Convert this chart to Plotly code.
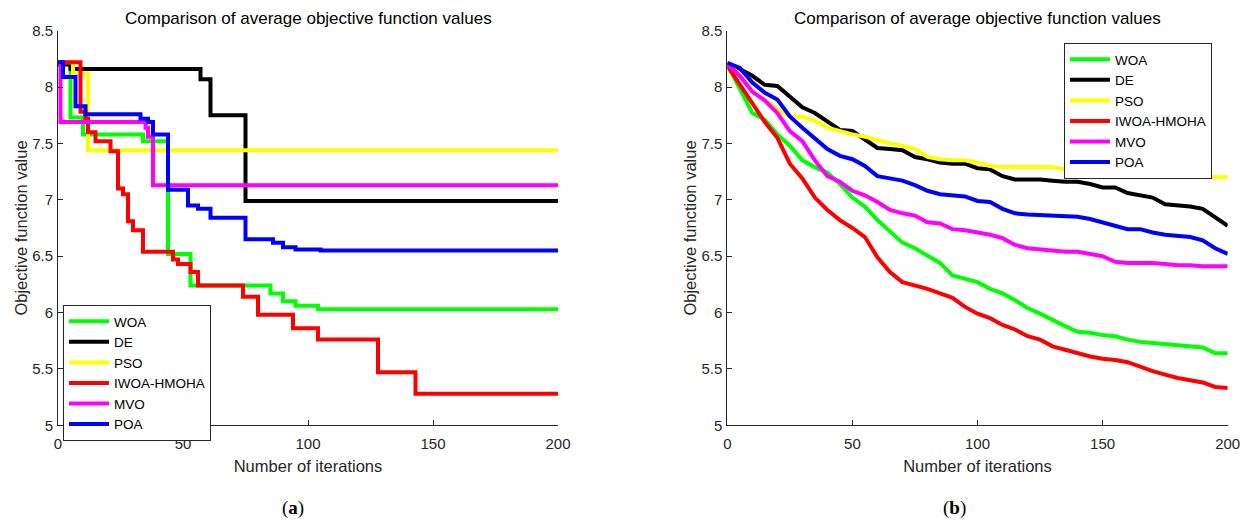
import plotly.graph_objects as go

names = ["WOA", "DE", "PSO", "IWOA-HMOHA", "MVO", "POA"]
colors = ["#00FF00", "#000000", "#FFFF00", "#FF0000", "#FF00FF", "#0000FF"]

# ---- (a) step curves: iteration where a level starts, and the level ----
a_woa_x = [0, 5, 10, 34, 44, 53, 85, 90, 95, 104, 200]
a_woa_y = [8.22, 7.73, 7.58, 7.52, 6.52, 6.24, 6.17, 6.10, 6.06, 6.03, 6.03]
a_de_x = [0, 5, 57, 61, 75, 200]
a_de_y = [8.20, 8.16, 8.07, 7.75, 6.99, 6.99]
a_pso_x = [0, 6, 12, 200]
a_pso_y = [8.22, 8.12, 7.44, 7.44]
a_iwoa_x = [0, 9, 11, 12, 15, 21, 24, 26, 28, 30, 34, 46, 48, 53, 56, 74, 80, 94, 104, 128, 143, 200]
a_iwoa_y = [8.22, 7.78, 7.72, 7.60, 7.52, 7.43, 7.10, 7.05, 6.81, 6.73, 6.54, 6.47, 6.43, 6.36, 6.24,
            6.14, 5.98, 5.86, 5.76, 5.47, 5.28, 5.28]
a_mvo_x = [0, 1, 35, 36, 38, 200]
a_mvo_y = [8.22, 7.69, 7.64, 7.56, 7.13, 7.13]
a_poa_x = [0, 2, 7, 11, 33, 36, 38, 44, 52, 56, 61, 75, 86, 90, 95, 105, 200]
a_poa_y = [8.22, 8.09, 7.83, 7.76, 7.72, 7.69, 7.58, 7.09, 6.95, 6.92, 6.84, 6.65, 6.62, 6.58, 6.56,
           6.55, 6.55]

# ---- (b) curves read every 5 iterations ----
b_iter = list(range(0, 201, 5))
b_woa = [8.20, 7.99, 7.77, 7.71, 7.58, 7.48, 7.35, 7.29, 7.24, 7.14, 7.02, 6.94, 6.82, 6.72, 6.62,
         6.57, 6.50, 6.44, 6.33, 6.30, 6.27, 6.21, 6.17, 6.11, 6.04, 5.99, 5.93, 5.88, 5.83, 5.82,
         5.80, 5.79, 5.76, 5.74, 5.73, 5.72, 5.71, 5.70, 5.69, 5.64, 5.64]
b_de = [8.21, 8.16, 8.10, 8.02, 8.01, 7.92, 7.82, 7.77, 7.69, 7.62, 7.61, 7.54, 7.46, 7.45, 7.44,
        7.38, 7.36, 7.33, 7.32, 7.32, 7.28, 7.27, 7.21, 7.18, 7.18, 7.18, 7.17, 7.16, 7.16, 7.14,
        7.11, 7.11, 7.06, 7.04, 7.02, 6.96, 6.95, 6.94, 6.92, 6.85, 6.77]
b_pso = [8.21, 8.11, 7.95, 7.89, 7.80, 7.74, 7.735, 7.70, 7.64, 7.61, 7.58, 7.56, 7.53, 7.50, 7.48,
         7.45, 7.38, 7.36, 7.35, 7.35, 7.33, 7.30, 7.29, 7.29, 7.29, 7.29, 7.29, 7.27, 7.24, 7.24,
         7.24, 7.24, 7.24, 7.24, 7.21, 7.21, 7.21, 7.21, 7.21, 7.20, 7.20]
b_iwoa = [8.19, 8.02, 7.85, 7.69, 7.55, 7.32, 7.19, 7.02, 6.91, 6.82, 6.75, 6.67, 6.49, 6.36, 6.27,
          6.24, 6.21, 6.17, 6.13, 6.05, 5.99, 5.95, 5.89, 5.85, 5.79, 5.76, 5.70, 5.67, 5.64, 5.61,
          5.59, 5.58, 5.56, 5.52, 5.48, 5.45, 5.42, 5.40, 5.38, 5.34, 5.33]
b_mvo = [8.21, 8.10, 7.96, 7.88, 7.77, 7.61, 7.52, 7.35, 7.21, 7.16, 7.08, 7.04, 6.98, 6.91, 6.88,
         6.86, 6.80, 6.79, 6.74, 6.73, 6.71, 6.69, 6.66, 6.60, 6.57, 6.56, 6.55, 6.54, 6.54, 6.52,
         6.50, 6.45, 6.44, 6.44, 6.44, 6.43, 6.42, 6.42, 6.41, 6.41, 6.41]
b_poa = [8.215, 8.17, 8.04, 7.95, 7.89, 7.74, 7.64, 7.54, 7.45, 7.39, 7.36, 7.30, 7.21, 7.19, 7.17,
         7.13, 7.08, 7.05, 7.04, 7.03, 6.99, 6.98, 6.92, 6.88, 6.87, 6.865, 6.86, 6.855, 6.85, 6.83,
         6.80, 6.77, 6.74, 6.74, 6.71, 6.69, 6.68, 6.67, 6.64, 6.57, 6.52]

y_ticks = [5, 5.5, 6, 6.5, 7, 7.5, 8, 8.5]
y_ticktext = ["5", "5.5", "6", "6.5", "7", "7.5", "8", "8.5"]
x_ticks = [0, 50, 100, 150, 200]

title_text = "Comparison of average objective function values"
xlabel = "Number of iterations"
ylabel = "Objective function value"

FONT = "Liberation Sans, Arial, sans-serif"
AX = "#262626"
LW = 4

fig = go.Figure()

a_x = [a_woa_x, a_de_x, a_pso_x, a_iwoa_x, a_mvo_x, a_poa_x]
a_y = [a_woa_y, a_de_y, a_pso_y, a_iwoa_y, a_mvo_y, a_poa_y]
for n, c, xs, ys in zip(names, colors, a_x, a_y):
    fig.add_trace(go.Scatter(x=xs, y=ys, mode="lines", name=n, line=dict(color=c, width=LW, shape="hv"),
                             xaxis="x", yaxis="y", legend="legend"))

b_y = [b_woa, b_de, b_pso, b_iwoa, b_mvo, b_poa]
for n, c, ys in zip(names, colors, b_y):
    fig.add_trace(go.Scatter(x=b_iter, y=ys, mode="lines", name=n, line=dict(color=c, width=LW),
                             xaxis="x2", yaxis="y2", legend="legend2"))

W, H = 1247, 523
x1d = [58 / W, 558 / W]
x2d = [727.3 / W, 1227.7 / W]
yd = [(H - 425.3) / H, (H - 30.7) / H]

def xax(domain, anchor):
    return dict(domain=domain, anchor=anchor, range=[0, 200], tickvals=x_ticks, ticks="inside",
                ticklen=5, tickcolor=AX, showline=True, linecolor=AX, linewidth=1, showgrid=False,
                zeroline=False, automargin=False, ticklabelstandoff=5,
                tickfont=dict(family=FONT, size=15, color=AX),
                title=dict(text=xlabel, font=dict(family=FONT, size=16.5, color=AX), standoff=9))

def yax(domain, anchor):
    return dict(domain=domain, anchor=anchor, range=[5, 8.5], tickvals=y_ticks, ticktext=y_ticktext,
                ticks="inside", ticklen=5, tickcolor=AX, showline=True, linecolor=AX, linewidth=1,
                showgrid=False, zeroline=False, automargin=False, ticklabelstandoff=1,
                tickfont=dict(family=FONT, size=15, color=AX),
                title=dict(text=ylabel, font=dict(family=FONT, size=16.5, color=AX), standoff=0))

legend_common = dict(font=dict(family=FONT, size=13.5, color="#000000"), bgcolor="#FFFFFF",
                     bordercolor=AX, borderwidth=1, xanchor="left", yanchor="top",
                     tracegroupgap=0, itemwidth=40)

fig.update_layout(
    width=W, height=H, margin=dict(l=0, r=0, t=0, b=0, autoexpand=False),
    paper_bgcolor="#FFFFFF", plot_bgcolor="#FFFFFF",
    xaxis=xax(x1d, "y"), yaxis=yax(yd, "x"),
    xaxis2=xax(x2d, "y2"), yaxis2=yax(yd, "x2"),
    legend=dict(x=63 / W, y=1 - 305 / H, **legend_common),
    legend2=dict(x=1064 / W, y=1 - 43 / H, **legend_common),
    showlegend=True,
    annotations=[
        dict(text=title_text, x=(x1d[0] + x1d[1]) / 2, y=1 - 18 / H, xref="paper", yref="paper",
             showarrow=False, font=dict(family=FONT, size=17, color="#000000"),
             xanchor="center", yanchor="middle"),
        dict(text=title_text, x=(x2d[0] + x2d[1]) / 2, y=1 - 18 / H, xref="paper", yref="paper",
             showarrow=False, font=dict(family=FONT, size=17, color="#000000"),
             xanchor="center", yanchor="middle"),
        dict(text="(<b>a</b>)", x=293 / W, y=1 - 508 / H, xref="paper", yref="paper",
             showarrow=False, font=dict(family="Liberation Serif, serif", size=19, color="#000000"),
             xanchor="center", yanchor="middle"),
        dict(text="(<b>b</b>)", x=955 / W, y=1 - 508 / H, xref="paper", yref="paper",
             showarrow=False, font=dict(family="Liberation Serif, serif", size=19, color="#000000"),
             xanchor="center", yanchor="middle"),
    ],
)

fig.write_html("out.html", config={"displayModeBar": False},
               post_script="document.body.style.margin='0';document.body.style.padding='0';"
                           "document.body.style.overflow='hidden';")
